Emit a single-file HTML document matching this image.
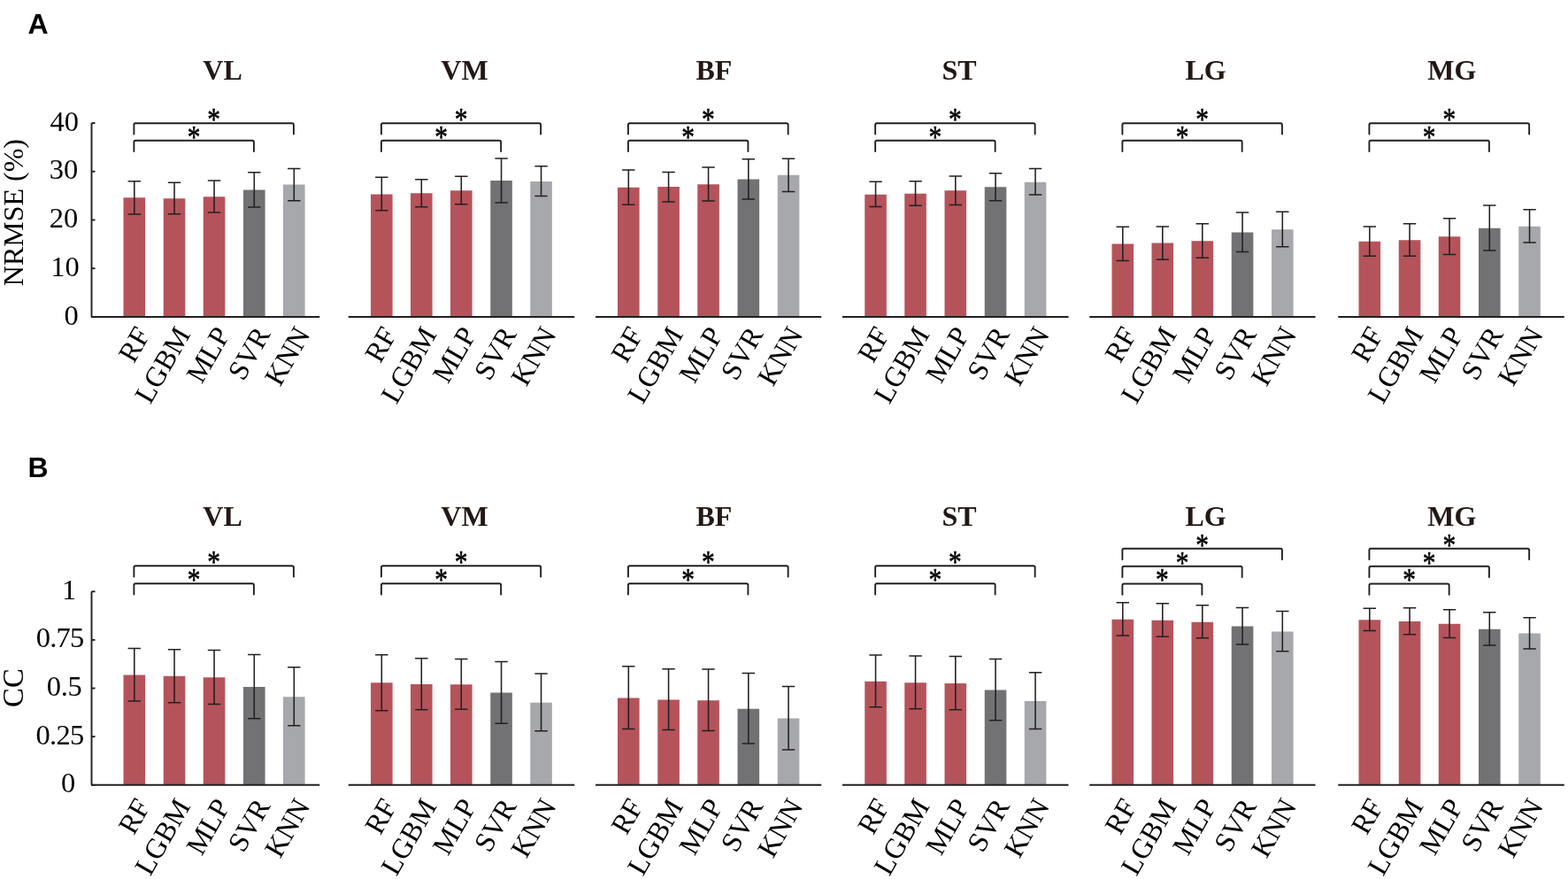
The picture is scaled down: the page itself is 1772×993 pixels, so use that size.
<!DOCTYPE html>
<html><head><meta charset="utf-8"><style>
html,body{margin:0;padding:0;background:#fff;}
svg{display:block;}
.pl{font-family:"Liberation Sans",Arial,sans-serif;font-weight:bold;font-size:32px;fill:#000;}
.ti{font-family:"Liberation Serif","Times New Roman",serif;font-weight:bold;font-size:32px;fill:#231815;}
.tl,.yt,.yl{font-family:"Liberation Serif","Times New Roman",serif;font-size:32.1px;fill:#000;}
.yt{font-size:32.5px;}
.st{font-family:"Liberation Serif","Times New Roman",serif;font-size:32px;fill:#000;stroke:#000;stroke-width:0.5;}
.eb{stroke:#231f20;stroke-width:1.55;fill:none;}
.ax{stroke:#231f20;stroke-width:1.9;fill:none;}
.br{stroke:#231f20;stroke-width:1.9;fill:none;stroke-linejoin:round;stroke-linecap:round;}
</style></head><body>
<svg width="1772" height="993" viewBox="0 0 1772 993">
<rect width="1772" height="993" fill="#fff"/>
<text x="31.5" y="37.6" class="pl">A</text>
<text x="251.5" y="90" class="ti" text-anchor="middle">VL</text>
<rect x="139.5" y="223.25" width="24.6" height="134.70" fill="#b5535b"/>
<rect x="184.75" y="224.25" width="24.6" height="133.70" fill="#b5535b"/>
<rect x="229.75" y="222.25" width="24.6" height="135.70" fill="#b5535b"/>
<rect x="275" y="214.5" width="24.6" height="143.45" fill="#727274"/>
<rect x="320" y="208.5" width="24.6" height="149.45" fill="#a7a8ac"/>
<path d="M151.80 204.75V242M144.60 204.75h14.4M144.60 242h14.4" class="eb"/>
<path d="M197.05 206.25V241.75M189.85 206.25h14.4M189.85 241.75h14.4" class="eb"/>
<path d="M242.05 204V240M234.85 204h14.4M234.85 240h14.4" class="eb"/>
<path d="M287.30 194.75V234M280.10 194.75h14.4M280.10 234h14.4" class="eb"/>
<path d="M332.30 190.5V226.75M325.10 190.5h14.4M325.10 226.75h14.4" class="eb"/>
<path d="M103 357.95H361.25" class="ax"/>
<path d="M151.40 171.0V160.60000000000002Q151.40 158.8 153.20 158.8H285.10Q286.90 158.8 286.90 160.60000000000002V171.0" class="br"/>
<text transform="translate(219.15 166.65) scale(0.92 1.1)" class="st" text-anchor="middle">*</text>
<path d="M151.40 151.45V141.05Q151.40 139.25 153.20 139.25H330.10Q331.90 139.25 331.90 141.05V151.45" class="br"/>
<text transform="translate(241.65 147.10) scale(0.92 1.1)" class="st" text-anchor="middle">*</text>
<text transform="translate(170.80 377.45) rotate(-60)" class="tl" text-anchor="end">RF</text>
<text transform="translate(216.05 377.45) rotate(-60)" class="tl" text-anchor="end">LGBM</text>
<text transform="translate(261.05 377.45) rotate(-60)" class="tl" text-anchor="end">MLP</text>
<text transform="translate(306.30 377.45) rotate(-60)" class="tl" text-anchor="end">SVR</text>
<text transform="translate(351.30 377.45) rotate(-60)" class="tl" text-anchor="end">KNN</text>
<text x="525" y="90" class="ti" text-anchor="middle">VM</text>
<rect x="419" y="219.5" width="24.6" height="138.45" fill="#b5535b"/>
<rect x="464" y="218.25" width="24.6" height="139.70" fill="#b5535b"/>
<rect x="509" y="215.25" width="24.6" height="142.70" fill="#b5535b"/>
<rect x="554.25" y="204" width="24.6" height="153.95" fill="#727274"/>
<rect x="599.25" y="205" width="24.6" height="152.95" fill="#a7a8ac"/>
<path d="M431.30 200.25V237.75M424.10 200.25h14.4M424.10 237.75h14.4" class="eb"/>
<path d="M476.30 202.75V233.75M469.10 202.75h14.4M469.10 233.75h14.4" class="eb"/>
<path d="M521.30 199.25V230.75M514.10 199.25h14.4M514.10 230.75h14.4" class="eb"/>
<path d="M566.55 179V229M559.35 179h14.4M559.35 229h14.4" class="eb"/>
<path d="M611.55 187.75V221.5M604.35 187.75h14.4M604.35 221.5h14.4" class="eb"/>
<path d="M393.75 357.95H649.25" class="ax"/>
<path d="M430.90 171.0V160.60000000000002Q430.90 158.8 432.70 158.8H564.35Q566.15 158.8 566.15 160.60000000000002V171.0" class="br"/>
<text transform="translate(498.52 166.65) scale(0.92 1.1)" class="st" text-anchor="middle">*</text>
<path d="M430.90 151.45V141.05Q430.90 139.25 432.70 139.25H609.35Q611.15 139.25 611.15 141.05V151.45" class="br"/>
<text transform="translate(521.02 147.10) scale(0.92 1.1)" class="st" text-anchor="middle">*</text>
<text transform="translate(449.30 377.45) rotate(-60)" class="tl" text-anchor="end">RF</text>
<text transform="translate(494.30 377.45) rotate(-60)" class="tl" text-anchor="end">LGBM</text>
<text transform="translate(539.30 377.45) rotate(-60)" class="tl" text-anchor="end">MLP</text>
<text transform="translate(584.55 377.45) rotate(-60)" class="tl" text-anchor="end">SVR</text>
<text transform="translate(629.55 377.45) rotate(-60)" class="tl" text-anchor="end">KNN</text>
<text x="806.9" y="90" class="ti" text-anchor="middle">BF</text>
<rect x="698" y="211.75" width="24.6" height="146.20" fill="#b5535b"/>
<rect x="743.25" y="211" width="24.6" height="146.95" fill="#b5535b"/>
<rect x="788.25" y="208.25" width="24.6" height="149.70" fill="#b5535b"/>
<rect x="833.5" y="202.5" width="24.6" height="155.45" fill="#727274"/>
<rect x="878.75" y="197.75" width="24.6" height="160.20" fill="#a7a8ac"/>
<path d="M710.30 192V231.25M703.10 192h14.4M703.10 231.25h14.4" class="eb"/>
<path d="M755.55 194.5V228M748.35 194.5h14.4M748.35 228h14.4" class="eb"/>
<path d="M800.55 189V227M793.35 189h14.4M793.35 227h14.4" class="eb"/>
<path d="M845.80 179.75V225M838.60 179.75h14.4M838.60 225h14.4" class="eb"/>
<path d="M891.05 179.25V216.5M883.85 179.25h14.4M883.85 216.5h14.4" class="eb"/>
<path d="M673 357.95H928.25" class="ax"/>
<path d="M709.90 171.0V160.60000000000002Q709.90 158.8 711.70 158.8H843.60Q845.40 158.8 845.40 160.60000000000002V171.0" class="br"/>
<text transform="translate(777.65 166.65) scale(0.92 1.1)" class="st" text-anchor="middle">*</text>
<path d="M709.90 151.45V141.05Q709.90 139.25 711.70 139.25H888.85Q890.65 139.25 890.65 141.05V151.45" class="br"/>
<text transform="translate(800.27 147.10) scale(0.92 1.1)" class="st" text-anchor="middle">*</text>
<text transform="translate(727.60 377.45) rotate(-60)" class="tl" text-anchor="end">RF</text>
<text transform="translate(772.85 377.45) rotate(-60)" class="tl" text-anchor="end">LGBM</text>
<text transform="translate(817.85 377.45) rotate(-60)" class="tl" text-anchor="end">MLP</text>
<text transform="translate(863.10 377.45) rotate(-60)" class="tl" text-anchor="end">SVR</text>
<text transform="translate(908.35 377.45) rotate(-60)" class="tl" text-anchor="end">KNN</text>
<text x="1084" y="90" class="ti" text-anchor="middle">ST</text>
<rect x="977.25" y="219.75" width="24.6" height="138.20" fill="#b5535b"/>
<rect x="1022.25" y="218.75" width="24.6" height="139.20" fill="#b5535b"/>
<rect x="1067.5" y="215.25" width="24.6" height="142.70" fill="#b5535b"/>
<rect x="1112.75" y="211.25" width="24.6" height="146.70" fill="#727274"/>
<rect x="1157.75" y="205.75" width="24.6" height="152.20" fill="#a7a8ac"/>
<path d="M989.55 205.25V233.5M982.35 205.25h14.4M982.35 233.5h14.4" class="eb"/>
<path d="M1034.55 204.75V232.25M1027.35 204.75h14.4M1027.35 232.25h14.4" class="eb"/>
<path d="M1079.80 199V231.5M1072.60 199h14.4M1072.60 231.5h14.4" class="eb"/>
<path d="M1125.05 195.75V226.75M1117.85 195.75h14.4M1117.85 226.75h14.4" class="eb"/>
<path d="M1170.05 190.5V220M1162.85 190.5h14.4M1162.85 220h14.4" class="eb"/>
<path d="M952 357.95H1207.5" class="ax"/>
<path d="M989.15 171.0V160.60000000000002Q989.15 158.8 990.95 158.8H1122.85Q1124.65 158.8 1124.65 160.60000000000002V171.0" class="br"/>
<text transform="translate(1056.90 166.65) scale(0.92 1.1)" class="st" text-anchor="middle">*</text>
<path d="M989.15 151.45V141.05Q989.15 139.25 990.95 139.25H1167.85Q1169.65 139.25 1169.65 141.05V151.45" class="br"/>
<text transform="translate(1079.40 147.10) scale(0.92 1.1)" class="st" text-anchor="middle">*</text>
<text transform="translate(1006.25 377.45) rotate(-60)" class="tl" text-anchor="end">RF</text>
<text transform="translate(1051.25 377.45) rotate(-60)" class="tl" text-anchor="end">LGBM</text>
<text transform="translate(1096.50 377.45) rotate(-60)" class="tl" text-anchor="end">MLP</text>
<text transform="translate(1141.75 377.45) rotate(-60)" class="tl" text-anchor="end">SVR</text>
<text transform="translate(1186.75 377.45) rotate(-60)" class="tl" text-anchor="end">KNN</text>
<text x="1362.5" y="90" class="ti" text-anchor="middle">LG</text>
<rect x="1256.5" y="275.5" width="24.6" height="82.45" fill="#b5535b"/>
<rect x="1301.5" y="274.5" width="24.6" height="83.45" fill="#b5535b"/>
<rect x="1346.5" y="272.25" width="24.6" height="85.70" fill="#b5535b"/>
<rect x="1391.75" y="262.5" width="24.6" height="95.45" fill="#727274"/>
<rect x="1437" y="259.25" width="24.6" height="98.70" fill="#a7a8ac"/>
<path d="M1268.80 256.25V294.5M1261.60 256.25h14.4M1261.60 294.5h14.4" class="eb"/>
<path d="M1313.80 256V293.25M1306.60 256h14.4M1306.60 293.25h14.4" class="eb"/>
<path d="M1358.80 252.75V291.25M1351.60 252.75h14.4M1351.60 291.25h14.4" class="eb"/>
<path d="M1404.05 240V284.5M1396.85 240h14.4M1396.85 284.5h14.4" class="eb"/>
<path d="M1449.30 239.25V278.75M1442.10 239.25h14.4M1442.10 278.75h14.4" class="eb"/>
<path d="M1231.25 357.95H1486.5" class="ax"/>
<path d="M1268.40 171.0V160.60000000000002Q1268.40 158.8 1270.20 158.8H1401.85Q1403.65 158.8 1403.65 160.60000000000002V171.0" class="br"/>
<text transform="translate(1336.02 166.65) scale(0.92 1.1)" class="st" text-anchor="middle">*</text>
<path d="M1268.40 151.45V141.05Q1268.40 139.25 1270.20 139.25H1447.10Q1448.90 139.25 1448.90 141.05V151.45" class="br"/>
<text transform="translate(1358.65 147.10) scale(0.92 1.1)" class="st" text-anchor="middle">*</text>
<text transform="translate(1285.50 377.45) rotate(-60)" class="tl" text-anchor="end">RF</text>
<text transform="translate(1330.50 377.45) rotate(-60)" class="tl" text-anchor="end">LGBM</text>
<text transform="translate(1375.50 377.45) rotate(-60)" class="tl" text-anchor="end">MLP</text>
<text transform="translate(1420.75 377.45) rotate(-60)" class="tl" text-anchor="end">SVR</text>
<text transform="translate(1466.00 377.45) rotate(-60)" class="tl" text-anchor="end">KNN</text>
<text x="1640.9" y="90" class="ti" text-anchor="middle">MG</text>
<rect x="1535.5" y="272.75" width="24.6" height="85.20" fill="#b5535b"/>
<rect x="1580.75" y="271.25" width="24.6" height="86.70" fill="#b5535b"/>
<rect x="1625.75" y="267.25" width="24.6" height="90.70" fill="#b5535b"/>
<rect x="1671" y="257.75" width="24.6" height="100.20" fill="#727274"/>
<rect x="1716.25" y="255.75" width="24.6" height="102.20" fill="#a7a8ac"/>
<path d="M1547.80 256V289.25M1540.60 256h14.4M1540.60 289.25h14.4" class="eb"/>
<path d="M1593.05 252.75V289.25M1585.85 252.75h14.4M1585.85 289.25h14.4" class="eb"/>
<path d="M1638.05 246.75V287.5M1630.85 246.75h14.4M1630.85 287.5h14.4" class="eb"/>
<path d="M1683.30 232V283M1676.10 232h14.4M1676.10 283h14.4" class="eb"/>
<path d="M1728.55 236.75V274M1721.35 236.75h14.4M1721.35 274h14.4" class="eb"/>
<path d="M1512.25 357.95H1767.75" class="ax"/>
<path d="M1547.40 171.0V160.60000000000002Q1547.40 158.8 1549.20 158.8H1681.10Q1682.90 158.8 1682.90 160.60000000000002V171.0" class="br"/>
<text transform="translate(1615.15 166.65) scale(0.92 1.1)" class="st" text-anchor="middle">*</text>
<path d="M1547.40 151.45V141.05Q1547.40 139.25 1549.20 139.25H1726.35Q1728.15 139.25 1728.15 141.05V151.45" class="br"/>
<text transform="translate(1637.77 147.10) scale(0.92 1.1)" class="st" text-anchor="middle">*</text>
<text transform="translate(1564.10 377.45) rotate(-60)" class="tl" text-anchor="end">RF</text>
<text transform="translate(1609.35 377.45) rotate(-60)" class="tl" text-anchor="end">LGBM</text>
<text transform="translate(1654.35 377.45) rotate(-60)" class="tl" text-anchor="end">MLP</text>
<text transform="translate(1699.60 377.45) rotate(-60)" class="tl" text-anchor="end">SVR</text>
<text transform="translate(1744.85 377.45) rotate(-60)" class="tl" text-anchor="end">KNN</text>
<path d="M103.5 139V357.95" class="ax"/>
<path d="M103.5 357.95h4" class="ax"/>
<text x="72.56" y="366.55" class="yt">0</text>
<path d="M103.5 303.21h4" class="ax"/>
<text x="57.14" y="311.81" class="yt">10</text>
<path d="M103.5 248.47h4" class="ax"/>
<text x="55.87" y="257.07" class="yt">20</text>
<path d="M103.5 193.74h4" class="ax"/>
<text x="55.74" y="202.34" class="yt">30</text>
<path d="M103.5 139.00h4" class="ax"/>
<text x="56.42" y="147.60" class="yt">40</text>
<text transform="translate(25.9 240.1) rotate(-90)" class="yl" style="font-size:32px" text-anchor="middle">NRMSE (%)</text>
<text x="31.5" y="539.1" class="pl">B</text>
<text x="251.5" y="593.5" class="ti" text-anchor="middle">VL</text>
<rect x="139.5" y="762.5" width="24.6" height="124.30" fill="#b5535b"/>
<rect x="184.75" y="763.75" width="24.6" height="123.05" fill="#b5535b"/>
<rect x="229.75" y="765.25" width="24.6" height="121.55" fill="#b5535b"/>
<rect x="275" y="776" width="24.6" height="110.80" fill="#727274"/>
<rect x="320" y="787.25" width="24.6" height="99.55" fill="#a7a8ac"/>
<path d="M151.80 732.5V792M144.60 732.5h14.4M144.60 792h14.4" class="eb"/>
<path d="M197.05 733.75V793.75M189.85 733.75h14.4M189.85 793.75h14.4" class="eb"/>
<path d="M242.05 734.5V795.5M234.85 734.5h14.4M234.85 795.5h14.4" class="eb"/>
<path d="M287.30 739.5V811.75M280.10 739.5h14.4M280.10 811.75h14.4" class="eb"/>
<path d="M332.30 753.75V819.75M325.10 753.75h14.4M325.10 819.75h14.4" class="eb"/>
<path d="M103 886.8H361.25" class="ax"/>
<path d="M151.40 671.45V661.05Q151.40 659.25 153.20 659.25H285.10Q286.90 659.25 286.90 661.05V671.45" class="br"/>
<text transform="translate(219.15 667.10) scale(0.92 1.1)" class="st" text-anchor="middle">*</text>
<path d="M151.40 651.45V641.05Q151.40 639.25 153.20 639.25H330.10Q331.90 639.25 331.90 641.05V651.45" class="br"/>
<text transform="translate(241.65 647.10) scale(0.92 1.1)" class="st" text-anchor="middle">*</text>
<text transform="translate(170.80 910.50) rotate(-60)" class="tl" text-anchor="end">RF</text>
<text transform="translate(216.05 910.50) rotate(-60)" class="tl" text-anchor="end">LGBM</text>
<text transform="translate(261.05 910.50) rotate(-60)" class="tl" text-anchor="end">MLP</text>
<text transform="translate(306.30 910.50) rotate(-60)" class="tl" text-anchor="end">SVR</text>
<text transform="translate(351.30 910.50) rotate(-60)" class="tl" text-anchor="end">KNN</text>
<text x="525" y="593.5" class="ti" text-anchor="middle">VM</text>
<rect x="419" y="771.25" width="24.6" height="115.55" fill="#b5535b"/>
<rect x="464" y="773" width="24.6" height="113.80" fill="#b5535b"/>
<rect x="509" y="773.25" width="24.6" height="113.55" fill="#b5535b"/>
<rect x="554.25" y="782.5" width="24.6" height="104.30" fill="#727274"/>
<rect x="599.25" y="793.75" width="24.6" height="93.05" fill="#a7a8ac"/>
<path d="M431.30 739.75V802.75M424.10 739.75h14.4M424.10 802.75h14.4" class="eb"/>
<path d="M476.30 743.75V801.75M469.10 743.75h14.4M469.10 801.75h14.4" class="eb"/>
<path d="M521.30 744.5V801.25M514.10 744.5h14.4M514.10 801.25h14.4" class="eb"/>
<path d="M566.55 747.5V817.25M559.35 747.5h14.4M559.35 817.25h14.4" class="eb"/>
<path d="M611.55 761V825.75M604.35 761h14.4M604.35 825.75h14.4" class="eb"/>
<path d="M393.75 886.8H649.25" class="ax"/>
<path d="M430.90 671.45V661.05Q430.90 659.25 432.70 659.25H564.35Q566.15 659.25 566.15 661.05V671.45" class="br"/>
<text transform="translate(498.52 667.10) scale(0.92 1.1)" class="st" text-anchor="middle">*</text>
<path d="M430.90 651.45V641.05Q430.90 639.25 432.70 639.25H609.35Q611.15 639.25 611.15 641.05V651.45" class="br"/>
<text transform="translate(521.02 647.10) scale(0.92 1.1)" class="st" text-anchor="middle">*</text>
<text transform="translate(449.30 910.50) rotate(-60)" class="tl" text-anchor="end">RF</text>
<text transform="translate(494.30 910.50) rotate(-60)" class="tl" text-anchor="end">LGBM</text>
<text transform="translate(539.30 910.50) rotate(-60)" class="tl" text-anchor="end">MLP</text>
<text transform="translate(584.55 910.50) rotate(-60)" class="tl" text-anchor="end">SVR</text>
<text transform="translate(629.55 910.50) rotate(-60)" class="tl" text-anchor="end">KNN</text>
<text x="806.9" y="593.5" class="ti" text-anchor="middle">BF</text>
<rect x="698" y="788.5" width="24.6" height="98.30" fill="#b5535b"/>
<rect x="743.25" y="790.5" width="24.6" height="96.30" fill="#b5535b"/>
<rect x="788.25" y="791.25" width="24.6" height="95.55" fill="#b5535b"/>
<rect x="833.5" y="800.75" width="24.6" height="86.05" fill="#727274"/>
<rect x="878.75" y="811.5" width="24.6" height="75.30" fill="#a7a8ac"/>
<path d="M710.30 752.75V823.5M703.10 752.75h14.4M703.10 823.5h14.4" class="eb"/>
<path d="M755.55 755.75V824.5M748.35 755.75h14.4M748.35 824.5h14.4" class="eb"/>
<path d="M800.55 756V825.5M793.35 756h14.4M793.35 825.5h14.4" class="eb"/>
<path d="M845.80 760.5V840M838.60 760.5h14.4M838.60 840h14.4" class="eb"/>
<path d="M891.05 775.5V847M883.85 775.5h14.4M883.85 847h14.4" class="eb"/>
<path d="M673 886.8H928.25" class="ax"/>
<path d="M709.90 671.45V661.05Q709.90 659.25 711.70 659.25H843.60Q845.40 659.25 845.40 661.05V671.45" class="br"/>
<text transform="translate(777.65 667.10) scale(0.92 1.1)" class="st" text-anchor="middle">*</text>
<path d="M709.90 651.45V641.05Q709.90 639.25 711.70 639.25H888.85Q890.65 639.25 890.65 641.05V651.45" class="br"/>
<text transform="translate(800.27 647.10) scale(0.92 1.1)" class="st" text-anchor="middle">*</text>
<text transform="translate(727.60 910.50) rotate(-60)" class="tl" text-anchor="end">RF</text>
<text transform="translate(772.85 910.50) rotate(-60)" class="tl" text-anchor="end">LGBM</text>
<text transform="translate(817.85 910.50) rotate(-60)" class="tl" text-anchor="end">MLP</text>
<text transform="translate(863.10 910.50) rotate(-60)" class="tl" text-anchor="end">SVR</text>
<text transform="translate(908.35 910.50) rotate(-60)" class="tl" text-anchor="end">KNN</text>
<text x="1084" y="593.5" class="ti" text-anchor="middle">ST</text>
<rect x="977.25" y="769.75" width="24.6" height="117.05" fill="#b5535b"/>
<rect x="1022.25" y="771.25" width="24.6" height="115.55" fill="#b5535b"/>
<rect x="1067.5" y="772" width="24.6" height="114.80" fill="#b5535b"/>
<rect x="1112.75" y="779.5" width="24.6" height="107.30" fill="#727274"/>
<rect x="1157.75" y="792" width="24.6" height="94.80" fill="#a7a8ac"/>
<path d="M989.55 740V798.75M982.35 740h14.4M982.35 798.75h14.4" class="eb"/>
<path d="M1034.55 741V800.75M1027.35 741h14.4M1027.35 800.75h14.4" class="eb"/>
<path d="M1079.80 741.5V801.75M1072.60 741.5h14.4M1072.60 801.75h14.4" class="eb"/>
<path d="M1125.05 744.5V813.75M1117.85 744.5h14.4M1117.85 813.75h14.4" class="eb"/>
<path d="M1170.05 759.75V823.5M1162.85 759.75h14.4M1162.85 823.5h14.4" class="eb"/>
<path d="M952 886.8H1207.5" class="ax"/>
<path d="M989.15 671.45V661.05Q989.15 659.25 990.95 659.25H1122.85Q1124.65 659.25 1124.65 661.05V671.45" class="br"/>
<text transform="translate(1056.90 667.10) scale(0.92 1.1)" class="st" text-anchor="middle">*</text>
<path d="M989.15 651.45V641.05Q989.15 639.25 990.95 639.25H1167.85Q1169.65 639.25 1169.65 641.05V651.45" class="br"/>
<text transform="translate(1079.40 647.10) scale(0.92 1.1)" class="st" text-anchor="middle">*</text>
<text transform="translate(1006.25 910.50) rotate(-60)" class="tl" text-anchor="end">RF</text>
<text transform="translate(1051.25 910.50) rotate(-60)" class="tl" text-anchor="end">LGBM</text>
<text transform="translate(1096.50 910.50) rotate(-60)" class="tl" text-anchor="end">MLP</text>
<text transform="translate(1141.75 910.50) rotate(-60)" class="tl" text-anchor="end">SVR</text>
<text transform="translate(1186.75 910.50) rotate(-60)" class="tl" text-anchor="end">KNN</text>
<text x="1362.5" y="593.5" class="ti" text-anchor="middle">LG</text>
<rect x="1256.5" y="699.75" width="24.6" height="187.05" fill="#b5535b"/>
<rect x="1301.5" y="700.75" width="24.6" height="186.05" fill="#b5535b"/>
<rect x="1346.5" y="702.75" width="24.6" height="184.05" fill="#b5535b"/>
<rect x="1391.75" y="707.5" width="24.6" height="179.30" fill="#727274"/>
<rect x="1437" y="713.5" width="24.6" height="173.30" fill="#a7a8ac"/>
<path d="M1268.80 680.75V718M1261.60 680.75h14.4M1261.60 718h14.4" class="eb"/>
<path d="M1313.80 681.75V719.25M1306.60 681.75h14.4M1306.60 719.25h14.4" class="eb"/>
<path d="M1358.80 683.75V720.75M1351.60 683.75h14.4M1351.60 720.75h14.4" class="eb"/>
<path d="M1404.05 686.5V728M1396.85 686.5h14.4M1396.85 728h14.4" class="eb"/>
<path d="M1449.30 690.5V735.75M1442.10 690.5h14.4M1442.10 735.75h14.4" class="eb"/>
<path d="M1231.25 886.8H1486.5" class="ax"/>
<path d="M1268.40 671.7V661.3Q1268.40 659.5 1270.20 659.5H1356.60Q1358.40 659.5 1358.40 661.3V671.7" class="br"/>
<text transform="translate(1313.40 667.35) scale(0.92 1.1)" class="st" text-anchor="middle">*</text>
<path d="M1268.40 651.95V641.55Q1268.40 639.75 1270.20 639.75H1401.85Q1403.65 639.75 1403.65 641.55V651.95" class="br"/>
<text transform="translate(1336.02 647.60) scale(0.92 1.1)" class="st" text-anchor="middle">*</text>
<path d="M1268.40 631.95V621.55Q1268.40 619.75 1270.20 619.75H1447.10Q1448.90 619.75 1448.90 621.55V631.95" class="br"/>
<text transform="translate(1358.65 627.60) scale(0.92 1.1)" class="st" text-anchor="middle">*</text>
<text transform="translate(1285.50 910.50) rotate(-60)" class="tl" text-anchor="end">RF</text>
<text transform="translate(1330.50 910.50) rotate(-60)" class="tl" text-anchor="end">LGBM</text>
<text transform="translate(1375.50 910.50) rotate(-60)" class="tl" text-anchor="end">MLP</text>
<text transform="translate(1420.75 910.50) rotate(-60)" class="tl" text-anchor="end">SVR</text>
<text transform="translate(1466.00 910.50) rotate(-60)" class="tl" text-anchor="end">KNN</text>
<text x="1640.9" y="593.5" class="ti" text-anchor="middle">MG</text>
<rect x="1535.5" y="700.25" width="24.6" height="186.55" fill="#b5535b"/>
<rect x="1580.75" y="702" width="24.6" height="184.80" fill="#b5535b"/>
<rect x="1625.75" y="704.75" width="24.6" height="182.05" fill="#b5535b"/>
<rect x="1671" y="710.75" width="24.6" height="176.05" fill="#727274"/>
<rect x="1716.25" y="715.5" width="24.6" height="171.30" fill="#a7a8ac"/>
<path d="M1547.80 687.25V712.5M1540.60 687.25h14.4M1540.60 712.5h14.4" class="eb"/>
<path d="M1593.05 686.75V716.75M1585.85 686.75h14.4M1585.85 716.75h14.4" class="eb"/>
<path d="M1638.05 688.75V720.5M1630.85 688.75h14.4M1630.85 720.5h14.4" class="eb"/>
<path d="M1683.30 691.75V729M1676.10 691.75h14.4M1676.10 729h14.4" class="eb"/>
<path d="M1728.55 697.75V733M1721.35 697.75h14.4M1721.35 733h14.4" class="eb"/>
<path d="M1512.25 886.8H1767.75" class="ax"/>
<path d="M1547.40 671.7V661.3Q1547.40 659.5 1549.20 659.5H1635.85Q1637.65 659.5 1637.65 661.3V671.7" class="br"/>
<text transform="translate(1592.52 667.35) scale(0.92 1.1)" class="st" text-anchor="middle">*</text>
<path d="M1547.40 651.95V641.55Q1547.40 639.75 1549.20 639.75H1681.10Q1682.90 639.75 1682.90 641.55V651.95" class="br"/>
<text transform="translate(1615.15 647.60) scale(0.92 1.1)" class="st" text-anchor="middle">*</text>
<path d="M1547.40 631.95V621.55Q1547.40 619.75 1549.20 619.75H1726.35Q1728.15 619.75 1728.15 621.55V631.95" class="br"/>
<text transform="translate(1637.77 627.60) scale(0.92 1.1)" class="st" text-anchor="middle">*</text>
<text transform="translate(1564.10 910.50) rotate(-60)" class="tl" text-anchor="end">RF</text>
<text transform="translate(1609.35 910.50) rotate(-60)" class="tl" text-anchor="end">LGBM</text>
<text transform="translate(1654.35 910.50) rotate(-60)" class="tl" text-anchor="end">MLP</text>
<text transform="translate(1699.60 910.50) rotate(-60)" class="tl" text-anchor="end">SVR</text>
<text transform="translate(1744.85 910.50) rotate(-60)" class="tl" text-anchor="end">KNN</text>
<path d="M103.5 668.25V886.8" class="ax"/>
<path d="M103.5 886.80h4" class="ax"/>
<text x="68.96" y="895.40" class="yt">0</text>
<path d="M103.5 832.16h4" class="ax"/>
<text x="40.56" y="840.76" class="yt" letter-spacing="-0.75">0.25</text>
<path d="M103.5 777.52h4" class="ax"/>
<text x="52.76" y="786.12" class="yt" letter-spacing="-0.3">0.5</text>
<path d="M103.5 722.89h4" class="ax"/>
<text x="40.66" y="731.49" class="yt" letter-spacing="-0.75">0.75</text>
<path d="M103.5 668.25h4" class="ax"/>
<text x="69.94" y="676.85" class="yt">1</text>
<text transform="translate(26.3 777.1) rotate(-90)" class="yl" style="font-size:32.7px" text-anchor="middle">CC</text>
</svg>
</body></html>
